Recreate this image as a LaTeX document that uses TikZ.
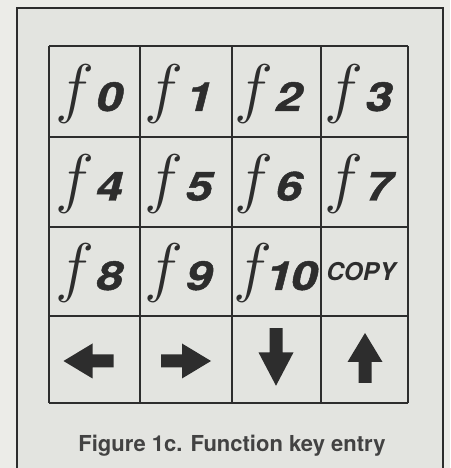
\documentclass[tikz,border=0pt]{standalone}
\usepackage{fontspec}
\setsansfont{TeX Gyre Heros}
\newfontfamily\keyfont[FakeStretch=1.2, FakeBold=1.2]{TeX Gyre Heros}
\usepackage{tikz}
\usetikzlibrary{arrows.meta}

\definecolor{paper}{RGB}{236,236,232}
\definecolor{panel}{RGB}{227,228,224}
\definecolor{ink}{RGB}{45,45,45}

\tikzset{
  keyarrow/.pic={
    \fill[ink] (-25,-6.5) -- (-4,-6.5) -- (-4,-17.5) -- (25,0) -- (-4,17.5) -- (-4,6.5) -- (-25,6.5) -- cycle;
  }
}

\newcommand{\fsym}{\scalebox{2.65}{\Huge$f$}}
\newcommand{\fnum}[1]{{\keyfont\fontsize{40}{40}\selectfont\bfseries\itshape #1}}

\begin{document}
\begin{tikzpicture}[x=1pt, y=1pt,
    frameline/.style={draw=ink, line width=1.3pt},
    gridline/.style={draw=ink, line width=1.8pt},
    keylabel/.style={anchor=base west, inner sep=0pt, text=ink},
    caption/.style={font=\sffamily\bfseries\fontsize{22}{22}\selectfont, text=ink!90}]
            % Page and frame
            \fill[paper] (0,0) rectangle (450,468);
            \useasboundingbox (0,0) rectangle (450,468);
            \filldraw[fill=panel, frameline] (17,-10) rectangle (443,460);

            % Key grid
            \foreach \x in {49,140,232,321,408}
                \draw[gridline] (\x,65) -- (\x,422);
            \foreach \y in {65,152,241,331,422}
                \draw[gridline] (49,\y) -- (408,\y);

            % Function keys f0 ... f9
            \foreach \lab [count=\i from 0] in {0,1,2,3,4,5,6,7,8,9} {
                \pgfmathsetmacro{\kx}{49 + 6 + mod(\i,4)*89.75}
                \pgfmathsetmacro{\ky}{357 - int(\i/4)*89.5}
                \node[keylabel] (f\lab) at (\kx,\ky) {\fsym\hspace{2pt}\fnum{\lab}};
            }
            % f10 is set tighter to fit its key
            \node[keylabel] (f10) at (233.5,178) {\fsym\hspace{-7pt}\fnum{1\kern-1.5pt0}};
            \node[text=ink, font=\sffamily\bfseries\itshape\fontsize{24.5}{24.5}\selectfont] (copy) at (361,196) {COPY};

            % Cursor keys
            \pic at (88.5,107) [rotate=180] {keyarrow};
            \pic at (186,107) {keyarrow};
            \pic at (276,111) [rotate=-90, xscale=1.15] {keyarrow};
            \pic at (365,110) [rotate=90] {keyarrow};

            % Caption
            \node[caption, anchor=base] (cap) at (232,16.5) {Figure 1c. Function key entry};
        \end{tikzpicture}
\end{document}
